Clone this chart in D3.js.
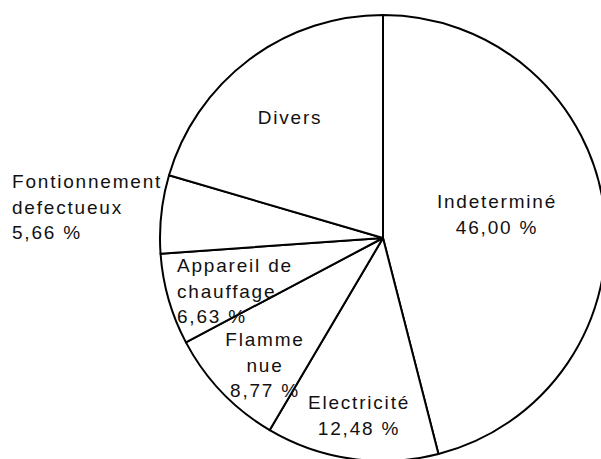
<!DOCTYPE html>
<html lang="fr">
<head>
    <meta charset="UTF-8">
    <title>Causes</title>
    <style>
        body {
            margin: 0;
            padding: 0;
            background-color: #fff;
        }
        svg text {
            font-family: "Liberation Sans", Arial, sans-serif;
            font-size: 19px;
            letter-spacing: 1.8px;
            fill: #111;
        }
    </style>
    <script src="https://d3js.org/d3.v7.min.js"></script>
</head>
<body>
    <svg id="chart" width="601" height="459"></svg>

    <script>
        // slices, clockwise from 12 o'clock
        const categories = ["Indeterminé", "Electricité", "Flamme\nnue", "Appareil de\nchauffage", "Fontionnement\ndefectueux", "Divers"];
        const values = [46.00, 12.48, 8.77, 6.63, 5.66, 20.46];
        const pctLabels = ["46,00 %", "12,48 %", "8,77 %", "6,63 %", "5,66 %", ""];

        // where each label sits (x, first baseline, anchor)
        const labelLayout = [
            { x: 497, y: 208, anchor: "middle" },
            { x: 359, y: 409, anchor: "middle" },
            { x: 265, y: 346, anchor: "middle" },
            { x: 177, y: 272, anchor: "start" },
            { x: 12, y: 188, anchor: "start" },
            { x: 290, y: 124, anchor: "middle" }
        ];

        const cx = 383, cy = 238, radius = 223;
        const lineHeight = 25.5;

        const svg = d3.select("#chart");

        const pie = d3.pie().sort(null).value(d => d.value);
        const arc = d3.arc().innerRadius(0).outerRadius(radius);

        const data = categories.map((c, i) => ({ name: c, value: values[i], pct: pctLabels[i] }));

        const g = svg.append("g").attr("transform", `translate(${cx},${cy})`);

        g.selectAll("path")
            .data(pie(data))
            .enter().append("path")
            .attr("d", arc)
            .attr("fill", "#fff")
            .attr("stroke", "#000")
            .attr("stroke-width", 2)
            .attr("stroke-linejoin", "round");

        const labels = svg.append("g")
            .selectAll("text")
            .data(data)
            .enter().append("text")
            .attr("text-anchor", (d, i) => labelLayout[i].anchor)
            .attr("x", (d, i) => labelLayout[i].x)
            .attr("y", (d, i) => labelLayout[i].y);

        labels.each(function (d, i) {
            const lines = d.name.split("\n");
            if (d.pct) lines.push(d.pct);
            const t = d3.select(this);
            lines.forEach((line, k) => {
                t.append("tspan")
                    .attr("x", labelLayout[i].x)
                    .attr("dy", k === 0 ? 0 : lineHeight)
                    .text(line);
            });
        });
    </script>
</body>
</html>
